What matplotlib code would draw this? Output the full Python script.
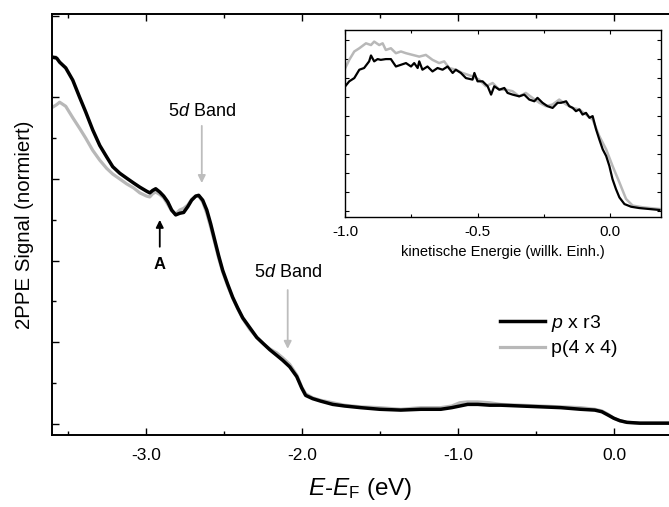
import matplotlib
matplotlib.use("Agg")
import matplotlib.pyplot as plt
from matplotlib.ticker import MultipleLocator, NullFormatter, FormatStrFormatter

plt.rcParams["font.family"] = ["Liberation Sans", "DejaVu Sans"]
plt.rcParams["mathtext.fontset"] = "custom"
plt.rcParams["mathtext.rm"] = "Liberation Sans"
plt.rcParams["mathtext.it"] = "Liberation Sans:italic"
plt.rcParams["axes.unicode_minus"] = False

# main spectrum: energy E-E_F (eV) and normalised 2PPE signal
energy = [-3.595, -3.570, -3.551, -3.512, -3.467, -3.423, -3.384, -3.339, -3.294, -3.250,
          -3.211, -3.166, -3.122, -3.077, -3.038, -2.994, -2.974, -2.955, -2.936, -2.910,
          -2.885, -2.859, -2.834, -2.808, -2.782, -2.757, -2.731, -2.706, -2.680, -2.661,
          -2.635, -2.609, -2.584, -2.558, -2.533, -2.507, -2.475, -2.443, -2.411, -2.379,
          -2.334, -2.289, -2.245, -2.206, -2.161, -2.123, -2.078, -2.033, -2.001, -1.976,
          -1.931, -1.880, -1.803, -1.726, -1.624, -1.502, -1.367, -1.239, -1.111, -1.041,
          -0.990, -0.939, -0.874, -0.798, -0.727, -0.599, -0.471, -0.343, -0.215, -0.125,
          -0.080, -0.041, -0.003, 0.036, 0.081, 0.164, 0.350]
signal_pxr3 = [4.49, 4.48, 4.43, 4.36, 4.21, 4.00, 3.82, 3.60, 3.41, 3.27,
               3.15, 3.07, 3.01, 2.95, 2.90, 2.85, 2.83, 2.86, 2.88, 2.84,
               2.79, 2.72, 2.62, 2.56, 2.58, 2.59, 2.66, 2.74, 2.79, 2.80,
               2.74, 2.62, 2.45, 2.25, 2.06, 1.88, 1.71, 1.55, 1.42, 1.30,
               1.18, 1.06, 0.98, 0.91, 0.84, 0.78, 0.70, 0.58, 0.44, 0.35,
               0.31, 0.28, 0.24, 0.22, 0.20, 0.18, 0.17, 0.18, 0.18, 0.20,
               0.22, 0.24, 0.24, 0.23, 0.23, 0.22, 0.21, 0.20, 0.18, 0.17,
               0.15, 0.11, 0.07, 0.04, 0.02, 0.01, 0.01]
signal_p44 = [3.88, 3.91, 3.94, 3.89, 3.75, 3.62, 3.50, 3.35, 3.23, 3.13,
              3.06, 3.00, 2.94, 2.89, 2.83, 2.79, 2.78, 2.82, 2.84, 2.81,
              2.77, 2.69, 2.61, 2.57, 2.62, 2.64, 2.68, 2.75, 2.79, 2.79,
              2.72, 2.58, 2.41, 2.22, 2.03, 1.86, 1.69, 1.54, 1.41, 1.29,
              1.16, 1.06, 0.98, 0.92, 0.87, 0.81, 0.73, 0.60, 0.45, 0.37,
              0.32, 0.29, 0.26, 0.23, 0.21, 0.20, 0.18, 0.20, 0.20, 0.22,
              0.26, 0.27, 0.27, 0.26, 0.24, 0.23, 0.22, 0.21, 0.20, 0.18,
              0.16, 0.12, 0.07, 0.04, 0.02, 0.01, 0.01]

# inset: kinetic energy (arb. units)
ekin_pxr3 = [-0.999, -0.984, -0.965, -0.946, -0.928, -0.909, -0.902, -0.890, -0.877, -0.865,
             -0.846, -0.827, -0.808, -0.789, -0.770, -0.751, -0.739, -0.726, -0.720, -0.708,
             -0.689, -0.670, -0.651, -0.632, -0.613, -0.594, -0.582, -0.563, -0.544, -0.519,
             -0.512, -0.500, -0.481, -0.462, -0.449, -0.437, -0.418, -0.399, -0.387, -0.368,
             -0.343, -0.324, -0.305, -0.286, -0.274, -0.255, -0.236, -0.217, -0.198, -0.185,
             -0.166, -0.154, -0.141, -0.129, -0.116, -0.104, -0.091, -0.078, -0.066, -0.053,
             -0.041, -0.028, -0.015, -0.003, 0.009, 0.022, 0.035, 0.054, 0.079, 0.110,
             0.148, 0.186]
inset_pxr3 = [6.58, 6.84, 7.01, 7.45, 7.54, 7.89, 8.20, 7.89, 8.01, 7.97,
              8.01, 8.01, 7.62, 7.71, 7.80, 7.62, 7.80, 7.54, 7.89, 7.45,
              7.62, 7.36, 7.54, 7.45, 7.62, 7.28, 7.45, 7.28, 7.01, 6.93,
              7.28, 6.84, 6.84, 6.58, 6.14, 6.58, 6.40, 6.49, 6.23, 6.14,
              6.05, 6.14, 5.88, 5.79, 5.97, 5.71, 5.53, 5.44, 5.71, 5.71,
              5.79, 5.53, 5.44, 5.27, 5.36, 5.09, 5.18, 4.92, 5.01, 4.31,
              3.79, 3.26, 2.91, 2.39, 1.69, 1.17, 0.73, 0.38, 0.24, 0.17,
              0.12, 0.07]
ekin_p44 = [-0.999, -0.984, -0.965, -0.946, -0.921, -0.902, -0.890, -0.871, -0.858, -0.846,
            -0.827, -0.808, -0.789, -0.770, -0.745, -0.720, -0.695, -0.670, -0.645, -0.626,
            -0.607, -0.582, -0.557, -0.538, -0.519, -0.494, -0.469, -0.443, -0.418, -0.393,
            -0.368, -0.343, -0.318, -0.293, -0.267, -0.242, -0.217, -0.192, -0.166, -0.141,
            -0.116, -0.091, -0.066, -0.041, -0.015, 0.009, 0.035, 0.060, 0.085, 0.123,
            0.186]
inset_p44 = [7.54, 7.97, 8.41, 8.58, 8.84, 8.75, 8.93, 8.75, 8.84, 8.49,
             8.58, 8.32, 8.41, 8.32, 8.23, 8.14, 8.23, 7.97, 7.80, 7.89,
             7.54, 7.45, 7.28, 7.19, 7.10, 6.93, 6.58, 6.75, 6.40, 6.40,
             6.32, 6.05, 6.23, 5.97, 5.71, 5.53, 5.62, 5.88, 5.62, 5.44,
             5.36, 5.09, 4.83, 3.96, 3.26, 2.39, 1.52, 0.65, 0.30, 0.21,
             0.12]

black = "#000000"
grey = "#b8b8b8"

fig = plt.figure(figsize=(6.69, 5.07), dpi=100)
ax = fig.add_axes([0.0777, 0.142, 0.9223, 0.8304])

l_grey, = ax.plot(energy, signal_p44, color=grey, lw=2.3, label="p(4 x 4)", zorder=2)
l_black, = ax.plot(energy, signal_pxr3, color=black, lw=2.5, label="$p$ x r3", zorder=3)

ax.set_xlim(-3.6, 0.35)
ax.set_ylim(-0.135, 5.02)
ax.xaxis.set_major_locator(MultipleLocator(1.0))
ax.xaxis.set_minor_locator(MultipleLocator(0.5))
ax.xaxis.set_major_formatter(FormatStrFormatter("%.1f"))
ax.yaxis.set_major_locator(MultipleLocator(1.0))
ax.yaxis.set_minor_locator(MultipleLocator(0.5))
ax.yaxis.set_major_formatter(NullFormatter())
ax.tick_params(which="both", direction="in", top=True, right=False, width=1.0,
               labelsize=12.5, pad=9)
ax.tick_params(which="major", length=5)
ax.tick_params(which="minor", length=3)
ax.spines["right"].set_visible(False)
for s in ["left", "bottom", "top"]:
    ax.spines[s].set_linewidth(1.4)

ax.set_xlabel("$E$-$E_\\mathrm{F}$ (eV)", fontsize=17.5, labelpad=10)
ax.set_ylabel("2PPE Signal (normiert)", fontsize=14.7, labelpad=4)

# annotations
arrow_grey = dict(arrowstyle="-|>", color="#bdbdbd", lw=1.3, mutation_scale=11, shrinkA=0, shrinkB=0)
ax.text(-2.641, 3.83, "5$d$ Band", fontsize=13, ha="center", va="center")
ax.annotate("", xy=(-2.641, 2.95), xytext=(-2.641, 3.65), arrowprops=arrow_grey)
ax.text(-2.091, 1.86, "5$d$ Band", fontsize=13, ha="center", va="center")
ax.annotate("", xy=(-2.091, 0.92), xytext=(-2.091, 1.64), arrowprops=arrow_grey)
ax.annotate("", xy=(-2.910, 2.50), xytext=(-2.910, 2.17),
            arrowprops=dict(arrowstyle="-|>", color=black, lw=1.3, mutation_scale=11, shrinkA=0, shrinkB=0))
ax.text(-2.910, 1.95, "A", fontsize=12, fontweight="bold", ha="center", va="center")

ax.legend(handles=[l_black, l_grey], loc="upper left", bbox_to_anchor=(0.7265, 0.29),
          frameon=False, fontsize=14, handlelength=2.3, handletextpad=0.3,
          labelspacing=0.3, borderpad=0, borderaxespad=0)

# inset
ins = fig.add_axes([0.5157, 0.572, 0.4716, 0.3688])
ins.plot(ekin_p44, inset_p44, color=grey, lw=1.8)
ins.plot(ekin_pxr3, inset_pxr3, color=black, lw=1.6)
ins.set_xlim(-1.0, 0.19)
ins.set_ylim(-0.3, 9.54)
ins.xaxis.set_major_locator(MultipleLocator(0.5))
ins.xaxis.set_minor_locator(MultipleLocator(0.25))
ins.xaxis.set_major_formatter(FormatStrFormatter("%.1f"))
ins.yaxis.set_major_locator(MultipleLocator(1.0))
ins.yaxis.set_major_formatter(NullFormatter())
ins.tick_params(which="both", direction="in", top=True, right=True, width=0.8,
                labelsize=11, pad=6)
ins.tick_params(which="major", length=3)
ins.tick_params(which="minor", length=2)
for s in ins.spines.values():
    s.set_linewidth(1.0)
ins.set_xlabel("kinetische Energie (willk. Einh.)", fontsize=10.5, labelpad=4)

fig.savefig("out.png", dpi=100)
